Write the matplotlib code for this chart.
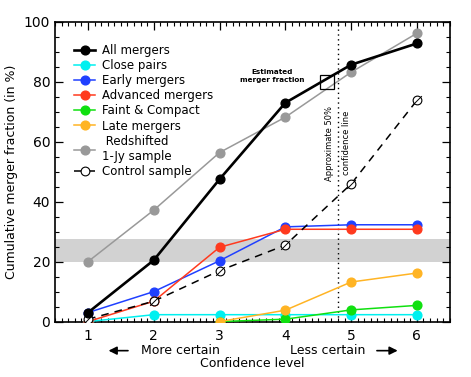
import numpy as np
import matplotlib
matplotlib.use("Agg")
from matplotlib import pyplot as plt
from matplotlib.ticker import MultipleLocator

# confidence levels
levels = [1, 2, 3, 4, 5, 6]
late_levels = [3, 4, 5, 6]

all_mergers = [3, 20.5, 47.5, 73, 85.7, 92.8]
close_pairs = [0, 2.3, 2.3, 2.3, 2.3, 2.3]
early_mergers = [3, 10, 20.3, 31.6, 32.3, 32.3]
advanced_mergers = [0, 6.8, 24.8, 30.8, 30.8, 30.8]
faint_compact = [0, 0.8, 3.9, 5.4]
late_mergers = [0, 3.8, 13.2, 16.2]
redshifted_1jy = [20, 37.2, 56.4, 68.2, 83.2, 96.2]
control_sample = [0.8, 6.8, 17, 25.5, 45.9, 73.8]

band = (20, 27.5)
conf_line_x = 4.8
estimate_x, estimate_y = 4.63, 80

plt.rcParams['font.family'] = ['DejaVu Sans']
fig = plt.figure(figsize=(4.71, 3.77), dpi=100)
ax = fig.add_axes([0.117, 0.147, 0.838, 0.795])

ax.axhspan(band[0], band[1], color='#d2d2d2', lw=0, zorder=0)
ax.axvline(conf_line_x, color='k', ls=(0, (1, 2.5)), lw=1.0, zorder=1)

ms = 6.3
ax.plot(levels, redshifted_1jy, '-o', color='#999999', mec='#999999', lw=1.1, ms=ms, zorder=3,
        label=' Redshifted\n1-Jy sample')
ax.plot(levels, close_pairs, '-o', color='#00f0f0', lw=1.1, ms=ms, zorder=3, label='Close pairs')
ax.plot(late_levels, faint_compact, '-o', color='#10e010', lw=1.1, ms=ms, zorder=3, label='Faint & Compact')
ax.plot(late_levels, late_mergers, '-o', color='#ffb424', lw=1.1, ms=ms, zorder=3, label='Late mergers')
ax.plot(levels, early_mergers, '-o', color='#2040ff', lw=1.1, ms=ms, zorder=4, label='Early mergers')
ax.plot(levels, advanced_mergers, '-o', color='#ff3a1e', lw=1.1, ms=ms, zorder=4, label='Advanced mergers')
ax.plot(levels, control_sample, '--o', color='k', mfc='white', mec='k', mew=0.8, lw=1.1, ms=ms,
        dashes=(5, 4), zorder=5, label='Control sample')
ax.plot(levels, control_sample, ls='none', marker=[(-0.6, -0.6), (0.6, 0.6)], color='k',
        mew=0.7, ms=ms, zorder=6)
ax.plot(levels, all_mergers, '-o', color='k', lw=1.9, ms=ms, zorder=6, label='All mergers')

# estimated merger fraction box
ax.plot([estimate_x], [estimate_y], marker='s', ms=10, mfc='none', mec='k', mew=0.9, zorder=7)
ax.text(3.8, 82, 'Estimated\nmerger fraction', fontsize=5.2, fontweight='bold',
        ha='center', va='center', linespacing=1.3)
ax.text(conf_line_x, 59.5, 'Approximate 50%\nconfidence line', fontsize=6, rotation=90,
        ha='center', va='center', linespacing=2.2)

ax.set_xlim(0.5, 6.5)
ax.set_ylim(0, 100)
ax.xaxis.set_major_locator(MultipleLocator(1))
ax.xaxis.set_minor_locator(MultipleLocator(0.1))
ax.yaxis.set_major_locator(MultipleLocator(20))
ax.yaxis.set_minor_locator(MultipleLocator(5))
ax.tick_params(which='both', direction='in', top=True, right=True, labelsize=10)
ax.tick_params(which='major', length=6, width=0.9)
ax.tick_params(which='minor', length=3, width=0.8)
ax.tick_params(axis='x', pad=5)
for s in ax.spines.values():
    s.set_linewidth(1.2)

ax.set_ylabel('Cumulative merger fraction (in %)', fontsize=9)
fig.text(0.5 * (0.117 + 0.955), 0.037, 'Confidence level', fontsize=9, ha='center', va='center')

# direction arrows under the axis
ax.annotate('', xy=(1.27, -9.7), xytext=(1.65, -9.7), xycoords='data', annotation_clip=False,
            arrowprops=dict(arrowstyle='-|>', color='k', lw=1.2, mutation_scale=12))
ax.text(1.8, -9.7, 'More certain', fontsize=9, ha='left', va='center', clip_on=False)
ax.text(5.22, -9.7, 'Less certain', fontsize=9, ha='right', va='center', clip_on=False)
ax.annotate('', xy=(5.75, -9.7), xytext=(5.35, -9.7), xycoords='data', annotation_clip=False,
            arrowprops=dict(arrowstyle='-|>', color='k', lw=1.2, mutation_scale=12))

handles, labels = ax.get_legend_handles_labels()
order = ['All mergers', 'Close pairs', 'Early mergers', 'Advanced mergers', 'Faint & Compact',
         'Late mergers', ' Redshifted\n1-Jy sample', 'Control sample']
hmap = dict(zip(labels, handles))
ax.legend([hmap[k] for k in order], order, loc='upper left', bbox_to_anchor=(0.03, 0.95),
          frameon=False, fontsize=8.5, handlelength=1.8, handletextpad=0.6, labelspacing=0.18,
          borderaxespad=0.2)

fig.savefig('out.png', dpi=100)
